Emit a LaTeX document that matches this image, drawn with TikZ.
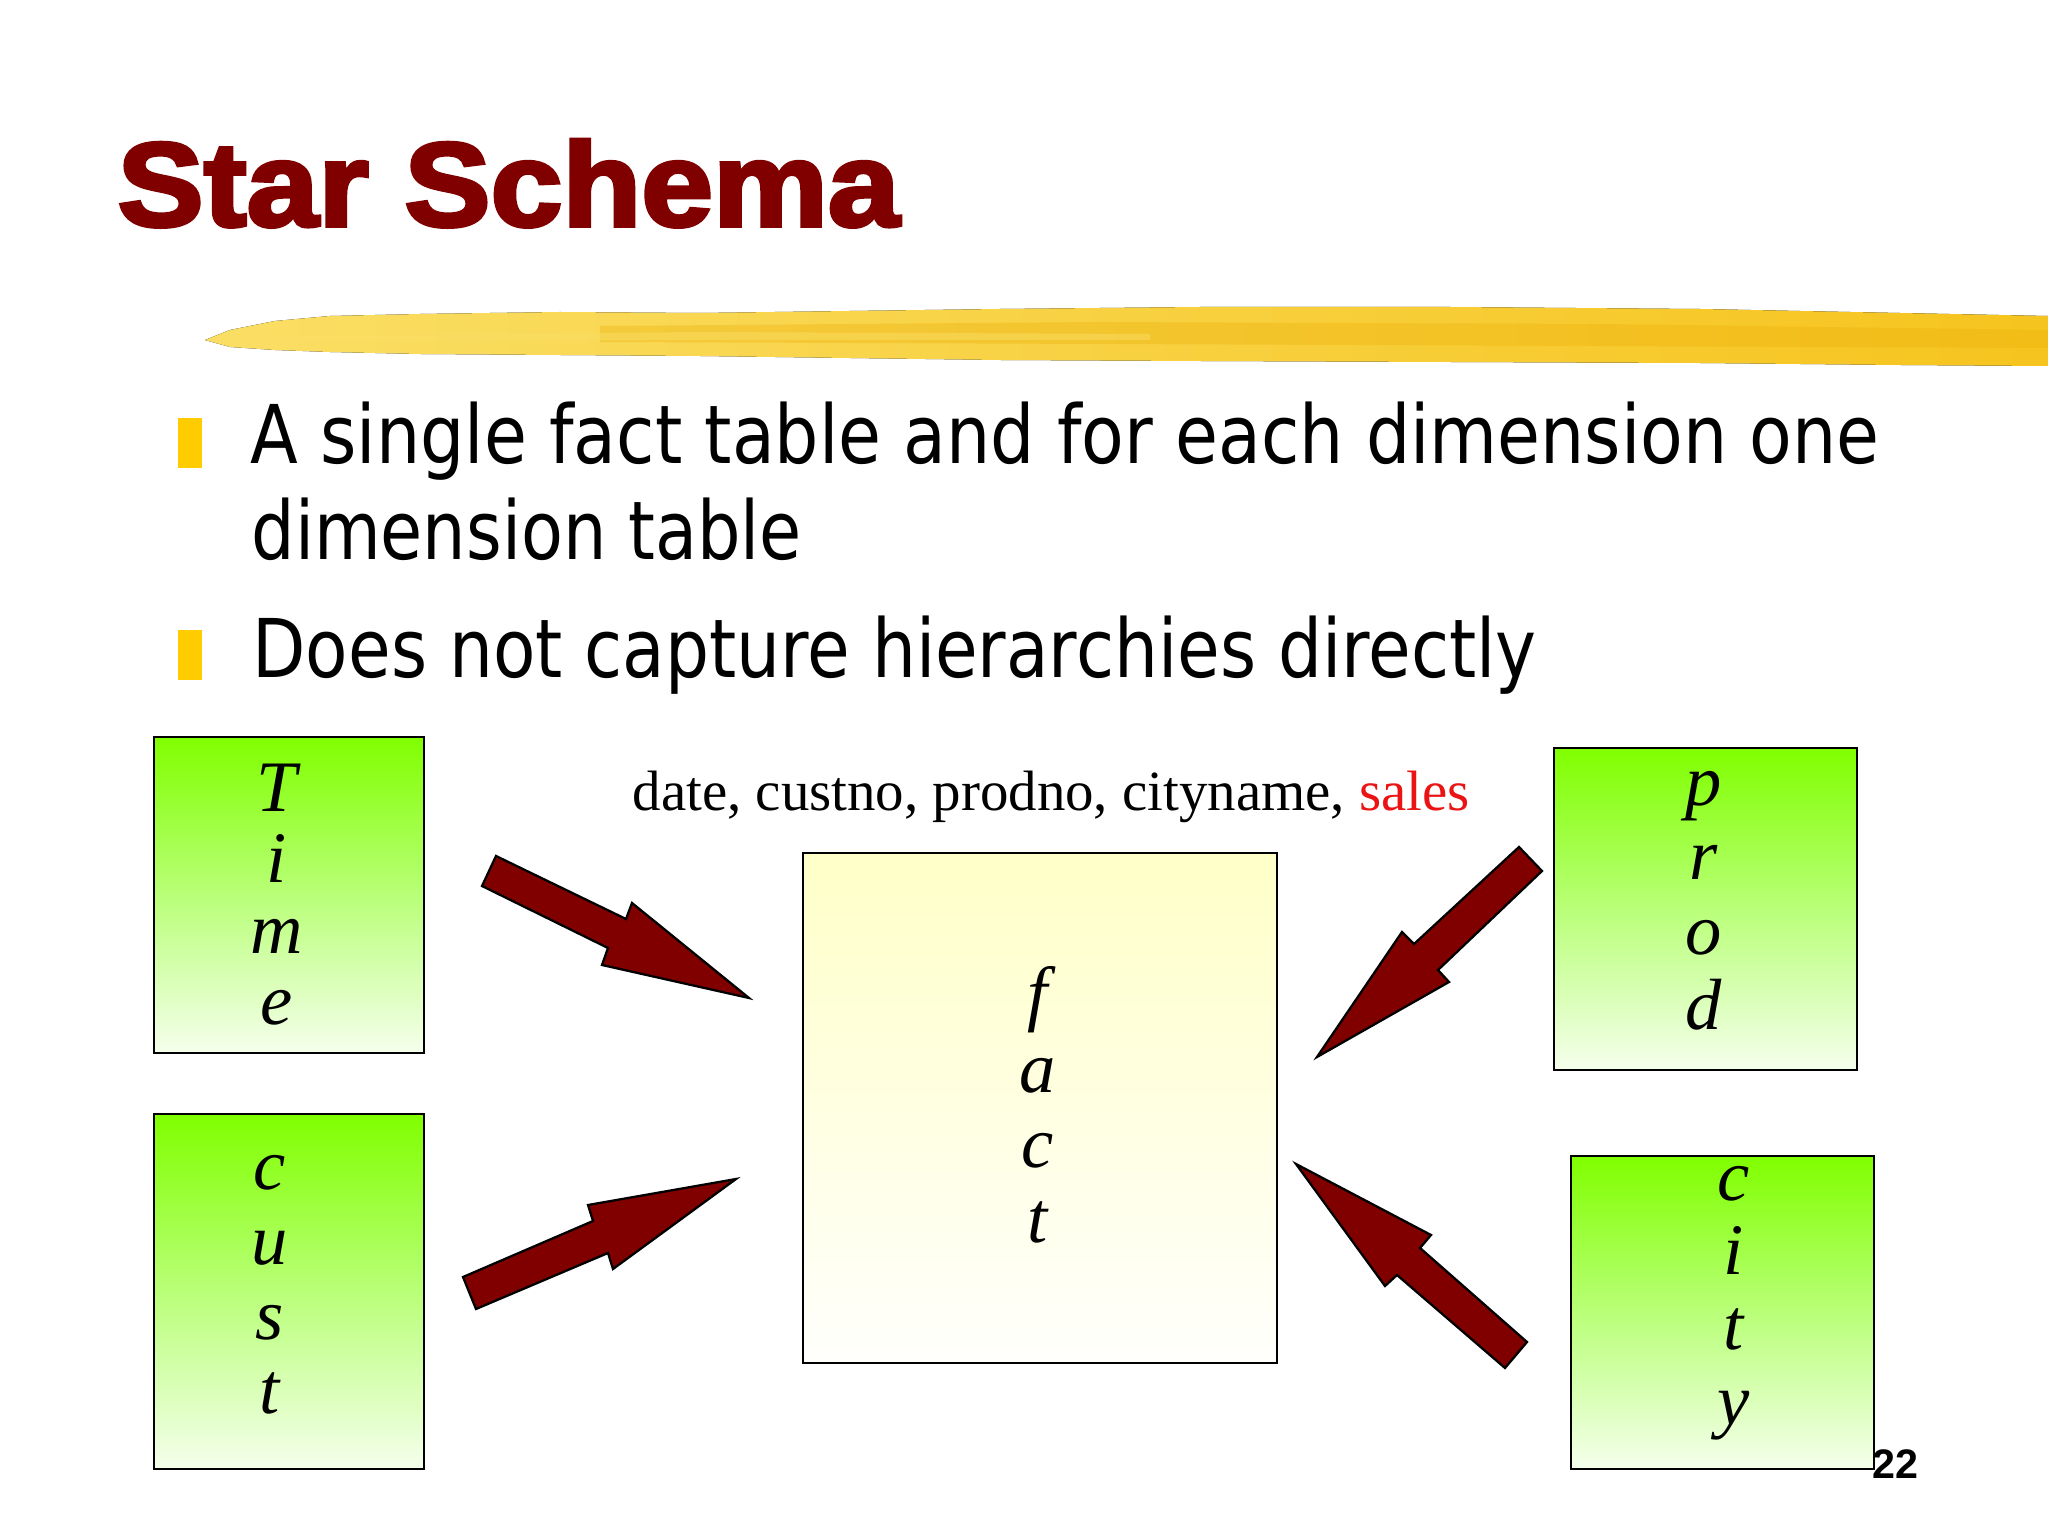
\documentclass[tikz,border=0pt]{standalone}
\usepackage{fontspec}
\usepackage{graphicx}
\newfontfamily\titlefont{Liberation Sans}
\newfontfamily\numfont{Liberation Sans}
\newfontfamily\bulletfont{DejaVu Sans}
\newfontfamily\serifrm{Liberation Serif}
\newcommand\heavytext[1]{\special{pdf:literal direct 2 Tr 1.3 w}#1\special{pdf:literal direct 0 Tr}}
\definecolor{titlered}{RGB}{128,0,0}
\definecolor{arrowred}{RGB}{128,0,0}
\definecolor{bulletyellow}{RGB}{255,204,0}
\definecolor{salesred}{RGB}{235,20,20}
\definecolor{dimtop}{RGB}{128,255,0}
\definecolor{dimmid}{RGB}{185,255,120}
\definecolor{dimbot}{RGB}{245,255,236}
\definecolor{facttop}{RGB}{255,255,200}
\definecolor{factbot}{RGB}{255,255,252}
\definecolor{brushA}{RGB}{250,222,100}
\definecolor{brushB}{RGB}{246,196,30}
\definecolor{brushC}{RGB}{236,176,10}
\begin{document}
\begin{tikzpicture}[x=0.3515625pt,y=-0.3515625pt,
  dimbox/.style={draw=black, line width=0.9pt, top color=dimtop, bottom color=dimbot, middle color=dimmid, inner sep=0pt},
  factbox/.style={draw=black, line width=0.9pt, top color=facttop, bottom color=factbot, inner sep=0pt},
  letters/.style={align=center, inner sep=0pt},
  blockarrow/.style={fill=arrowred, draw=black, line width=0.8pt, line join=miter},
  bulletmark/.style={fill=bulletyellow, draw=none},
  bullettext/.style={anchor=base west, inner sep=0pt, font=\bulletfont\fontsize{28.5}{30}\selectfont}]
\useasboundingbox (0,0) rectangle (2048,1536);
\fill[white] (0,0) rectangle (2048,1536);

% title
\node[anchor=base west, inner sep=0pt, text=titlered] (title) at (117,226)
  {\resizebox{275pt}{\height}{\titlefont\bfseries\fontsize{42}{42}\selectfont\heavytext{Star Schema}}};

% brush stroke
\fill[left color=brushA, right color=brushB]
  (205,340) -- (230,330) -- (275,321) -- (330,316) -- (420,314) -- (560,312) -- (700,313)
  -- (850,311) -- (1000,309) -- (1200,307) -- (1450,307) -- (1700,309) -- (1900,313) -- (2048,316)
  -- (2048,366) -- (1900,365) -- (1700,363) -- (1450,362) -- (1200,361) -- (1000,360)
  -- (850,358) -- (700,356) -- (560,355) -- (420,354) -- (330,352) -- (275,350) -- (230,347) -- cycle;
\fill[brushC, opacity=0.35] (600,326) -- (1100,322) -- (1600,324) -- (2048,330) -- (2048,348) -- (1600,346) -- (1100,344) -- (600,342) -- cycle;
\fill[brushA, opacity=0.5] (260,336) -- (700,332) -- (1150,334) -- (1150,340) -- (700,340) -- (260,342) -- cycle;

% bullets
\fill[bulletmark] (178,418) rectangle (202,468);
\fill[bulletmark] (178,630) rectangle (202,680);
\node[bullettext] (b1a) at (250,464) {\resizebox{572.7pt}{\height}{A single fact table and for each dimension one}};
\node[bullettext] (b1b) at (251,560) {\resizebox{193.4pt}{\height}{dimension table}};
\node[bullettext] (b2) at (252,677) {\resizebox{451.4pt}{\height}{Does not capture hierarchies directly}};

% boxes
\node[dimbox, minimum width=94.9pt, minimum height=111.1pt] (time) at (289,895) {};
\node[dimbox, minimum width=94.9pt, minimum height=124.8pt] (cust) at (289,1291.5) {};
\node[dimbox, minimum width=106.5pt, minimum height=113.2pt] (prod) at (1705.5,909) {};
\node[dimbox, minimum width=106.5pt, minimum height=110pt] (city) at (1722.5,1312.5) {};
\node[factbox, minimum width=166.6pt, minimum height=179.3pt] (fact) at (1040,1108) {};

% letters
\node[letters, font=\serifrm\itshape\fontsize{25.5}{25}\selectfont] (timeL) at (277,894.5) {T\\i\\m\\e};
\node[letters, font=\serifrm\itshape\fontsize{25.5}{26.3}\selectfont] (custL) at (270,1285) {c\\u\\s\\t};
\node[letters, font=\serifrm\itshape\fontsize{25.5}{26.2}\selectfont] (prodL) at (1704,900.5) {p\\r\\o\\d};
\node[letters, font=\serifrm\itshape\fontsize{25.5}{26.3}\selectfont] (cityL) at (1734,1303) {c\\i\\t\\y};
\node[letters, font=\serifrm\itshape\fontsize{25.5}{26.4}\selectfont] (factL) at (1038,1104.5) {f\\a\\c\\t};

% fact attributes
\node[anchor=base west, inner sep=0pt, font=\serifrm\fontsize{20}{20}\selectfont] (attrs) at (632,810)
  {date, custno, prodno, cityname, \textcolor{salesred}{sales}};

% block arrows
\draw[blockarrow] (496,856) -- (626,919) -- (632,903) -- (749,998) -- (602,965) -- (608,948) -- (482,886) -- cycle;
\draw[blockarrow] (463,1277) -- (593,1221) -- (588,1205) -- (736,1179) -- (613,1269) -- (608,1253) -- (476,1309) -- cycle;
\draw[blockarrow] (1519,847) -- (1542,871) -- (1438,970) -- (1449,982) -- (1317,1057) -- (1402,932) -- (1414,944) -- cycle;
\draw[blockarrow] (1296,1164) -- (1431,1235) -- (1420,1248) -- (1527,1342) -- (1505,1368) -- (1397,1275) -- (1385,1286) -- cycle;

% page number
\node[anchor=base west, inner sep=0pt, font=\numfont\bfseries\fontsize{14.5}{15}\selectfont] (pagenum) at (1872,1478) {22};
\end{tikzpicture}
\end{document}
